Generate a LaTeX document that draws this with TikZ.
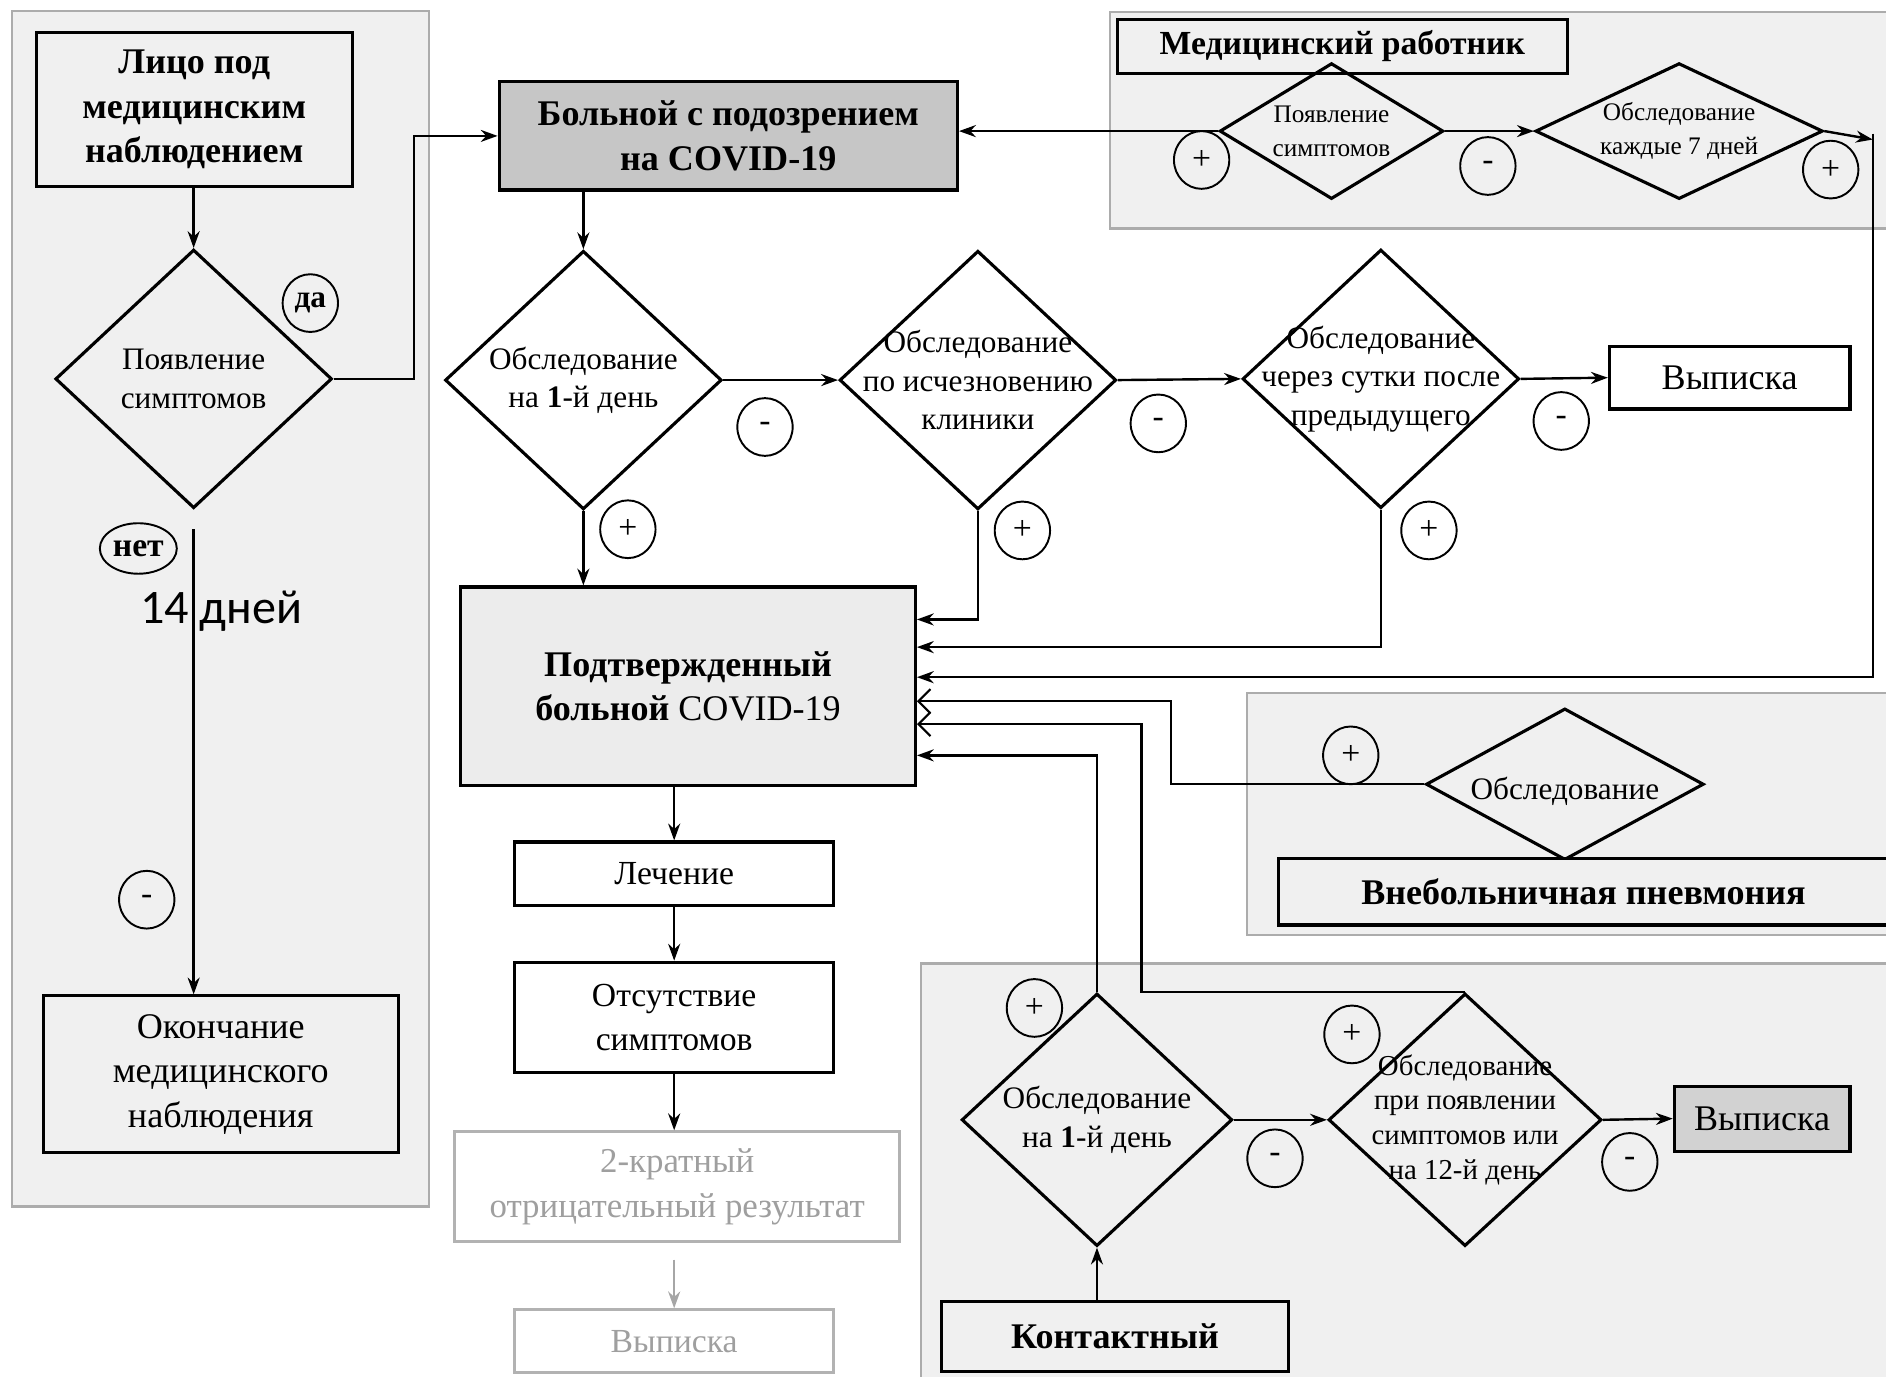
\documentclass[tikz,border=0pt]{standalone}
\usepackage{fontspec}
\setmainfont{Liberation Serif}
\newfontfamily\calibfont{Carlito}
\usetikzlibrary{shapes.geometric,arrows.meta}

\begin{document}
\begin{tikzpicture}[x=0.5pt,y=-0.5pt,
    panel/.style={draw=gray!65, fill=gray!12, line width=0.9pt},
    box/.style={draw, line width=1.3pt, inner sep=0pt, align=center, font=\fontsize{15}{18.5}\selectfont},
    bbox/.style={box, font=\bfseries\fontsize{15}{18.5}\selectfont},
    faded/.style={draw=gray!60, text=gray!75},
    dia/.style={draw, diamond, line width=1.3pt, inner sep=0pt},
    dtext/.style={align=center, font=\fontsize{13}{16}\selectfont},
    stext/.style={align=center, font=\fontsize{10.5}{14}\selectfont},
    sign/.style={draw, ellipse, line width=0.8pt, minimum width=23pt, minimum height=24pt, inner sep=0pt, font=\fontsize{14}{14}\selectfont},
    arr/.style={-{Stealth[length=7pt,width=5pt]}, line width=1pt},
    arrv/.style={-{Straight Barb[length=5pt,width=10pt]}, line width=0.9pt}]

    \useasboundingbox (0,0) rectangle (1568,1144);
    \clip (0,0) rectangle (1568,1144);

    % background panels
    \draw[panel] (10,9) rectangle (357,1003);
    \draw[panel] (923,10) rectangle (1590,190);
    \draw[panel] (1037,576) rectangle (1590,777);
    \draw[panel] (766,801) rectangle (1590,1170);

    % left column
    \node[bbox, minimum width=131.5pt, minimum height=64pt] (lico) at (161.5,91) {Лицо под\\медицинским\\наблюдением};
    \node[dia, minimum width=115pt, minimum height=107.5pt, label={[dtext]center:Появление\\симптомов}] (dsym) at (161,315) {};
    \node[sign, font=\bfseries\fontsize{13}{13}\selectfont] (sDa) at (258,252) {да};
    \node[sign, minimum width=32pt, minimum height=21pt, font=\bfseries\fontsize{14}{14}\selectfont] (sNet) at (115,456) {нет};
    \coordinate (netstart) at (161,440);
    \node[anchor=west, inner sep=0pt, font=\calibfont\fontsize{20}{20}\selectfont] (days) at (116,508) {14 дней};
    \node[sign] (sNo) at (122,748) {-};
    \node[box, minimum width=147.5pt, minimum height=65pt] (okonch) at (183.5,893) {Окончание\\медицинского\\наблюдения};

    % suspected case and tests
    \node[bbox, fill=gray!45, minimum width=190.5pt, minimum height=45pt] (bolnoy) at (605.5,113) {Больной с подозрением\\на COVID-19};
    \node[dia, minimum width=115pt, minimum height=107.5pt, label={[dtext]center:Обследование\\на \textbf{1}-й день}] (d1) at (485,316) {};
    \node[dia, minimum width=115pt, minimum height=107.5pt, label={[dtext]center:Обследование\\по исчезновению\\клиники}] (d2) at (813,316) {};
    \node[dia, minimum width=115pt, minimum height=107.5pt, label={[dtext]center:Обследование\\через сутки после\\предыдущего}] (d3) at (1148,315) {};
    \node[box, minimum width=100pt, minimum height=26pt] (vyp2) at (1438,314) {Выписка};
    \node[sign] (s1m) at (636,355) {-};
    \node[sign] (s1p) at (522,440) {+};
    \node[sign] (s2m) at (963,352) {-};
    \node[sign] (s2p) at (850,441) {+};
    \node[sign] (s3m) at (1298,350) {-};
    \node[sign] (s3p) at (1188,441) {+};

    % confirmed case
    \node[box, fill=gray!15, minimum width=189pt, minimum height=82.5pt] (podtv) at (572,570.5) {\textbf{Подтвержденный}\\\textbf{больной} COVID-19};
    \node[box, minimum width=132.5pt, minimum height=26.5pt, font=\fontsize{14}{17}\selectfont] (lech) at (560.5,726.5) {Лечение};
    \node[box, minimum width=132.5pt, minimum height=46pt, font=\fontsize{14}{18.5}\selectfont] (otsut) at (560.5,846) {Отсутствие\\симптомов};
    \node[box, faded, minimum width=185pt, minimum height=45.5pt, font=\fontsize{14.5}{18.5}\selectfont] (dvukr) at (563,986.5) {2-кратный\\отрицательный результат};
    \node[box, faded, minimum width=132.5pt, minimum height=26pt, font=\fontsize{14}{17}\selectfont] (vyp1) at (560.5,1115) {Выписка};

    % medical worker
    \node[bbox, fill=gray!12, minimum width=187pt, minimum height=22.5pt, font=\bfseries\fontsize{14}{17}\selectfont] (medrab) at (1116,38.5) {Медицинский работник};
    \node[dia, minimum width=93pt, minimum height=56.5pt, label={[stext]center:Появление\\симптомов}] (m1) at (1107,109) {};
    \node[dia, minimum width=119.5pt, minimum height=56.5pt, label={[stext]center:Обследование\\каждые 7 дней}] (m2) at (1396,109) {};
    \node[sign] (smp1) at (999,133) {+};
    \node[sign] (smm) at (1237,138) {-};
    \node[sign] (smp2) at (1522,141) {+};
    \coordinate (mright) at (1557,116);

    % pneumonia
    \node[dia, minimum width=115.5pt, minimum height=63pt, label={[dtext, yshift=-3pt]center:Обследование}] (pn) at (1301,652) {};
    \node[bbox, fill=gray!12, minimum width=253.5pt, minimum height=27.5pt] (vneb) at (1316.5,741.5) {Внебольничная пневмония};
    \node[sign] (spn) at (1123,628) {+};

    % contact
    \node[dia, minimum width=112.5pt, minimum height=105pt, label={[dtext]center:Обследование\\на \textbf{1}-й день}] (c1) at (912,931) {};
    \node[dia, minimum width=113.5pt, minimum height=105pt, label={[align=center, font=\fontsize{12}{14.5}\selectfont]center:Обследование\\при появлении\\симптомов или\\на 12-й день}] (c2) at (1218,931) {};
    \node[box, fill=gray!35, minimum width=73pt, minimum height=27pt] (vyp3) at (1465,930) {Выписка};
    \node[bbox, fill=gray!12, minimum width=144pt, minimum height=29pt] (kont) at (927,1111) {Контактный};
    \node[sign] (sc1p) at (860,838) {+};
    \node[sign] (sc1m) at (1060,963) {-};
    \node[sign] (sc2p) at (1124,860) {+};
    \node[sign] (sc2m) at (1355,966) {-};

    % connectors
    \draw[arr] (lico.south -| dsym.north) -- (dsym.north);
    \draw[arr] (dsym.east) -- ++(67,0) |- (bolnoy.west);
    \draw[arr] (netstart) -- (netstart |- okonch.north);
    \draw[arr] (d1.north |- bolnoy.south) -- (d1.north);
    \draw[arr] (d1.east) -- (d2.west);
    \draw[arr] (d2.east) -- (d3.west);
    \draw[arr] (d3.east) -- (vyp2.west);
    \draw[arr] (d1.south) -- (d1.south |- podtv.north);
    \draw[arr] (d2.south) |- ([yshift=27.75pt]podtv.east);
    \draw[arr] (d3.south) |- ([yshift=16.25pt]podtv.east);
    \draw[arr] (m1.west) -- (m1.west -| bolnoy.east);
    \draw[arr] (m1.east) -- (m2.west);
    \draw[arr] (m2.east) -- (mright);
    \draw[arr] ([yshift=2.5pt]mright) |- ([yshift=3.75pt]podtv.east);
    \draw[arrv] (pn.west) -- ++(-211,0) |- ([yshift=-6.25pt]podtv.east);
    \draw[arrv] (c2.north) -- ++(-269,0) |- ([yshift=-15.75pt]podtv.east);
    \draw[arr] (c1.north) |- ([yshift=-28.75pt]podtv.east);
    \draw[arr] (kont.north -| c1.south) -- (c1.south);
    \draw[arr] (c1.east) -- (c2.west);
    \draw[arr] (c2.east) -- (vyp3.west);
    \draw[arr] (podtv.south -| lech.north) -- (lech.north);
    \draw[arr] (lech.south) -- (otsut.north);
    \draw[arr] (otsut.south) -- (otsut.south |- dvukr.north);
    \draw[arr, gray!70] ([yshift=-7pt]vyp1.north |- dvukr.south) -- (vyp1.north);

\end{tikzpicture}
\end{document}
